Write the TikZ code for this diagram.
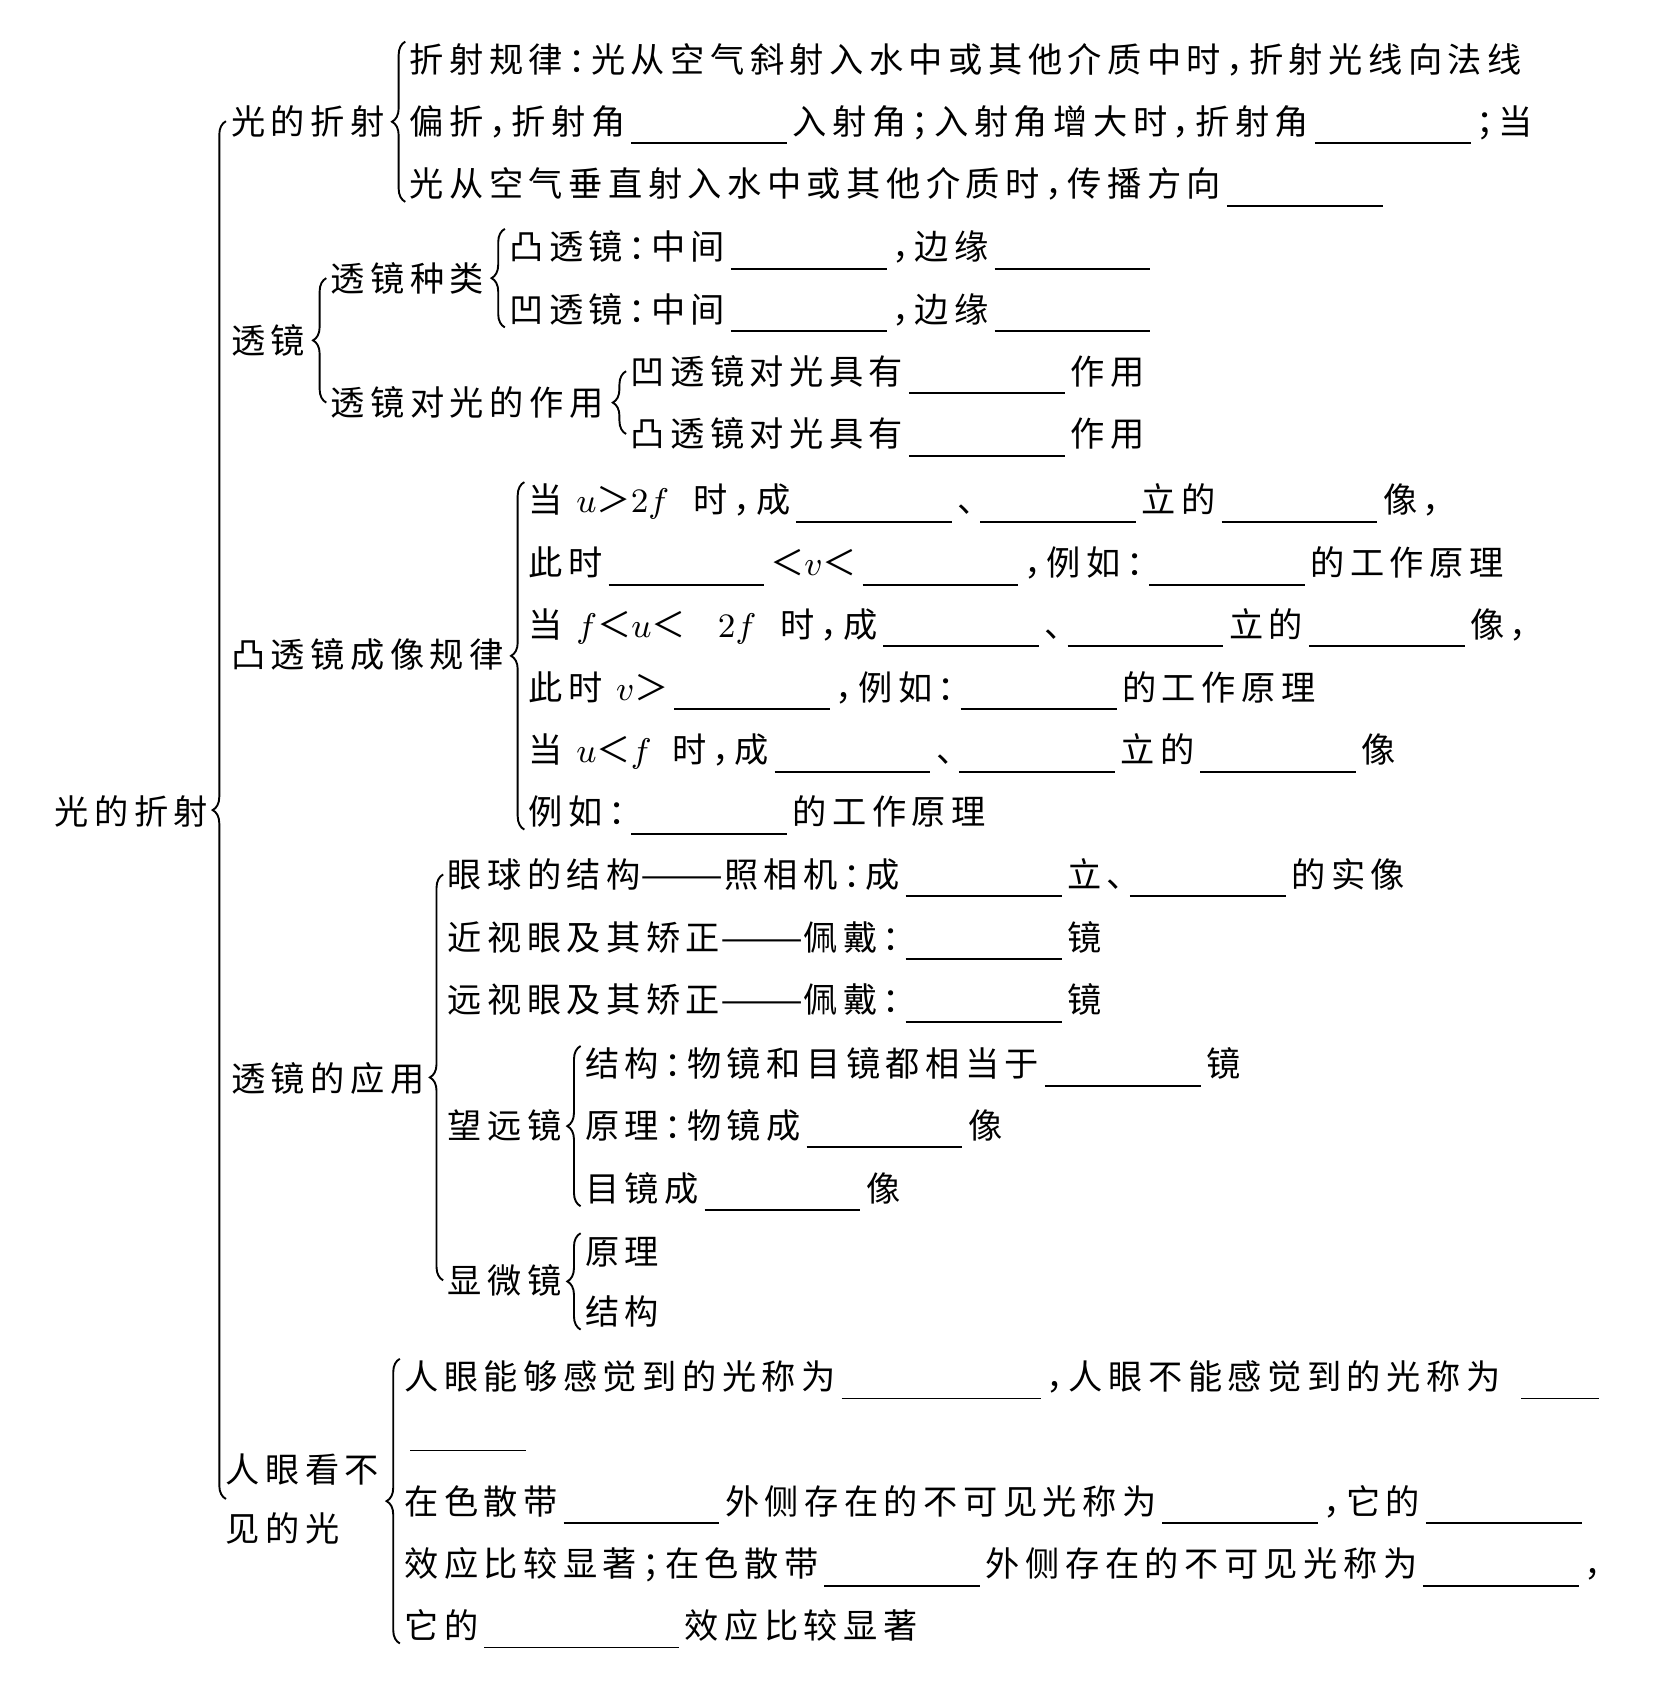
\documentclass[tikz,border=0pt]{standalone}
\usepackage{fontspec}
\usepackage{graphicx}
\setmainfont{Noto Sans CJK SC}[RawFeature={+halt},LetterSpace=16]
\usepackage{tikz}
\usetikzlibrary{decorations.pathreplacing}
\newcommand{\blank}[1][1.44cm]{\kern1.5pt\rule[-2.6pt]{#1}{0.5pt}\kern1.5pt}
\newcommand{\dash}{\scalebox{1.45}[1]{——}}

\begin{document}
\begin{tikzpicture}[font=\fontsize{9}{11}\selectfont,
  ln/.style={anchor=west,inner sep=0pt,text height=7.9pt,text depth=1.1pt},
  brc/.style={decorate,decoration={brace,amplitude=3.5pt},line width=0.5pt}]
\fill[white] (0,0) rectangle (15.39,-15.68);
\useasboundingbox (0,0) rectangle (15.39,-15.68);

\node[ln] (root) at (0.50,-7.50) {光的折射};

\node[ln] (g1) at (2.13,-1.12) {光的折射};
\node[ln] (l11) at (3.78,-0.55) {折射规律：光从空气斜射入水中或其他介质中时，折射光线向法线};
\node[ln] (l12) at (3.78,-1.12) {偏折，折射角\blank 入射角；入射角增大时，折射角\blank ；当};
\node[ln] (l13) at (3.78,-1.70) {光从空气垂直射入水中或其他介质时，传播方向\blank};

\node[ln] (g2) at (2.13,-3.15) {透镜};
\node[ln] (g2a) at (3.05,-2.57) {透镜种类};
\node[ln] (l21) at (4.70,-2.28) {凸透镜：中间\blank ，边缘\blank};
\node[ln] (l22) at (4.70,-2.86) {凹透镜：中间\blank ，边缘\blank};
\node[ln] (g2b) at (3.05,-3.72) {透镜对光的作用};
\node[ln] (l23) at (5.82,-3.43) {凹透镜对光具有\blank 作用};
\node[ln] (l24) at (5.82,-4.01) {凸透镜对光具有\blank 作用};

\node[ln] (g3) at (2.13,-6.05) {凸透镜成像规律};
\node[ln] (l31) at (4.88,-4.62) {当 $u$＞$2f$\hspace{3pt} 时，成\blank 、\blank 立的\blank 像，};
\node[ln] (l32) at (4.88,-5.20) {此时\blank ＜$v$＜\blank ，例如：\blank 的工作原理};
\node[ln] (l33) at (4.88,-5.77) {当 $f$＜$u$＜\hspace{5pt} $2f$\hspace{3pt} 时，成\blank 、\blank 立的\blank 像，};
\node[ln] (l34) at (4.88,-6.35) {此时 $v$＞\blank ，例如：\blank 的工作原理};
\node[ln] (l35) at (4.88,-6.93) {当 $u$＜$f$\hspace{2pt} 时，成\blank 、\blank 立的\blank 像};
\node[ln] (l36) at (4.88,-7.50) {例如：\blank 的工作原理};

\node[ln] (g4) at (2.13,-9.97) {透镜的应用};
\node[ln] (l41) at (4.13,-8.08) {眼球的结构\dash 照相机：成\blank 立、\blank 的实像};
\node[ln] (l42) at (4.13,-8.66) {近视眼及其矫正\dash 佩戴：\blank 镜};
\node[ln] (l43) at (4.13,-9.24) {远视眼及其矫正\dash 佩戴：\blank 镜};
\node[ln] (g4a) at (4.13,-10.40) {望远镜};
\node[ln] (l44) at (5.40,-9.83) {结构：物镜和目镜都相当于\blank 镜};
\node[ln] (l45) at (5.40,-10.40) {原理：物镜成\blank 像};
\node[ln] (l46) at (5.40,-10.98) {目镜成\blank 像};
\node[ln] (g4b) at (4.13,-11.83) {显微镜};
\node[ln] (l47) at (5.40,-11.56) {原理};
\node[ln] (l48) at (5.40,-12.12) {结构};

\node[anchor=west,inner sep=0pt,align=left,font=\fontsize{9}{15.6}\selectfont] (g5) at (2.08,-13.85) {人眼看不\\见的光};
\node[ln] (l51) at (3.73,-12.72) {人眼能够感觉到的光称为\blank[1.84cm]，人眼不能感觉到的光称为\hspace{4pt}\blank[0.72cm]};
\node[ln] (l52) at (3.73,-13.20) {\blank[1.07cm]};
\node[ln] (l53) at (3.73,-13.87) {在色散带\blank 外侧存在的不可见光称为\blank ，它的\blank};
\node[ln] (l54) at (3.73,-14.45) {效应比较显著；在色散带\blank 外侧存在的不可见光称为\blank ，};
\node[ln] (l55) at (3.73,-15.02) {它的\blank[1.80cm]效应比较显著};

\coordinate (rt) at ([xshift=-1.2pt]g1.west);
\coordinate (rb) at (rt |- g5.west);
\draw[brc] (rb) -- (rt);
\draw[brc] ([xshift=-1pt]l13.south west) -- ([xshift=-1pt]l11.north west);
\draw[brc] ([xshift=-1pt]g2b.west) -- ([xshift=-1pt]g2a.west);
\draw[brc] ([xshift=-1pt]l22.south west) -- ([xshift=-1pt]l21.north west);
\draw[brc] ([xshift=-1pt]l24.west) -- ([xshift=-1pt]l23.west);
\draw[brc] ([xshift=-1pt]l36.south west) -- ([xshift=-1pt]l31.north west);
\draw[brc] ([xshift=-1pt]g4b.west) -- ([xshift=-1pt]l41.west);
\draw[brc] ([xshift=-1pt]l46.south west) -- ([xshift=-1pt]l44.north west);
\draw[brc] ([xshift=-1pt]l48.south west) -- ([xshift=-1pt]l47.north west);
\draw[brc] ([xshift=-1pt]l55.south west) -- ([xshift=-1pt]l51.north west);
\end{tikzpicture}
\end{document}
